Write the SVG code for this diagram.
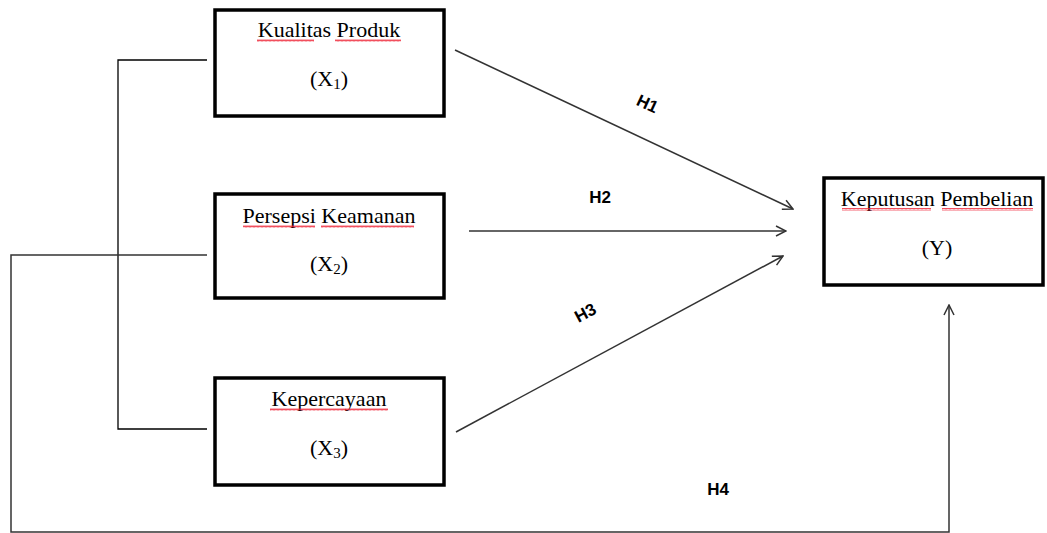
<svg xmlns="http://www.w3.org/2000/svg" width="1047" height="533" viewBox="0 0 1047 533">
<style>
.box{fill:#fff;stroke:#000;stroke-width:3.5}
.t{font-family:"Liberation Serif","Times New Roman",serif;font-size:22px;fill:#000;text-anchor:middle}
.sub{font-size:15px}
.ln{fill:none;stroke:#000;stroke-width:1.3}
.arr{fill:none;stroke:#333;stroke-width:1.5}
.h{font-family:"Liberation Sans",Arial,sans-serif;font-size:17px;font-weight:bold;fill:#000;text-anchor:middle}
.sq{fill:url(#squig)}
</style>
<defs>
<marker id="open" viewBox="0 0 12 12" refX="11" refY="6" markerWidth="12" markerHeight="12" markerUnits="userSpaceOnUse" orient="auto">
<path d="M1,1 L11,6 L1,11" fill="none" stroke="#333" stroke-width="1.5"/>
</marker>
<pattern id="squig" width="4" height="3" patternUnits="userSpaceOnUse">
<path d="M0,2.5 L1,0.5 L2,2.5 L3,0.5 L4,2.5" fill="none" stroke="#e23" stroke-width="0.8"/>
</pattern>
</defs>
<g id="connectors">
<polyline class="ln" points="207,60 118,60 118,429 207,429"/>
<polyline class="arr" points="207,255 11,255 11,532 949,532 949,305" marker-end="url(#open)"/>
<line class="arr" x1="455" y1="50" x2="793" y2="209" marker-end="url(#open)"/>
<line class="arr" x1="469" y1="231" x2="786" y2="231" marker-end="url(#open)"/>
<line class="arr" x1="456" y1="432" x2="783" y2="256" marker-end="url(#open)"/>
<text class="h" transform="translate(645,109) rotate(25)">H1</text>
<text class="h" x="600" y="203">H2</text>
<text class="h" transform="translate(588,318) rotate(-28)">H3</text>
<text class="h" x="718" y="495">H4</text>
</g>
<g id="x1">
<rect class="box" x="215" y="10" width="229" height="106"/>
<text class="t" x="329" y="37">Kualitas Produk</text>
<text class="t" x="329" y="86">(X<tspan class="sub" dy="3">1</tspan><tspan dy="-3">)</tspan></text>
<rect class="sq" x="257" y="39" width="57" height="3"/>
<rect class="sq" x="335" y="39" width="66" height="3"/>
</g>
<g id="x2">
<rect class="box" x="215" y="194" width="229" height="104"/>
<text class="t" x="329" y="223">Persepsi Keamanan</text>
<text class="t" x="329" y="271">(X<tspan class="sub" dy="3">2</tspan><tspan dy="-3">)</tspan></text>
<rect class="sq" x="243" y="225" width="72" height="3"/>
<rect class="sq" x="321" y="225" width="93" height="3"/>
</g>
<g id="x3">
<rect class="box" x="215" y="378" width="229" height="107"/>
<text class="t" x="329" y="406">Kepercayaan</text>
<text class="t" x="329" y="455">(X<tspan class="sub" dy="3">3</tspan><tspan dy="-3">)</tspan></text>
<rect class="sq" x="270" y="408" width="118" height="3"/>
</g>
<g id="y">
<rect class="box" x="824" y="178" width="219" height="107"/>
<text class="t" x="937" y="206">Keputusan Pembelian</text>
<text class="t" x="937" y="255">(Y)</text>
<rect class="sq" x="842" y="208" width="89" height="3"/>
<rect class="sq" x="942" y="208" width="91" height="3"/>
</g>
</svg>
